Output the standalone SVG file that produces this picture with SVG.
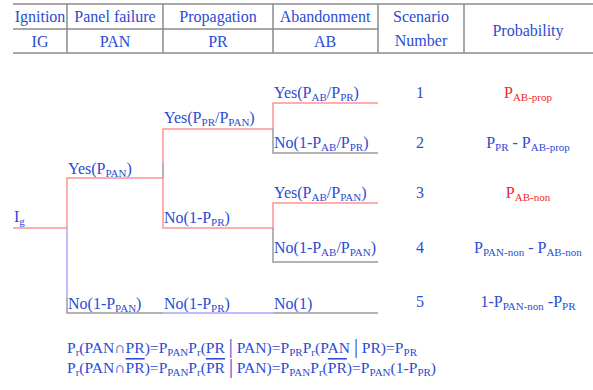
<svg xmlns="http://www.w3.org/2000/svg" width="593" height="390" viewBox="0 0 593 390">
<style>
.t{font-family:"Liberation Serif","Times New Roman",serif;font-size:16px;fill:#2b4bd4}
.c{text-anchor:middle}
.r{fill:#f02828}
.s{font-size:11px}
.f{font-size:15.6px}
.tb{stroke:#8c8c8c;stroke-width:1.5;fill:none}
.red{stroke:#ff9494;stroke-width:1.5;fill:none}
.blu{stroke:#a8a8ff;stroke-width:1.5;fill:none}
.gry{stroke:#9a9a9a;stroke-width:1.5;fill:none}
</style>
<rect width="593" height="390" fill="#fff"/>
<g id="table">
<path class="tb" d="M13,4H593M13,29H378M13,53H593M67,4V53M163,4V53M273,4V53M378,4V53M464,4V53"/>
<text class="t c" x="40" y="22">Ignition</text>
<text class="t c" x="115" y="22">Panel failure</text>
<text class="t c" x="218" y="22">Propagation</text>
<text class="t c" x="325" y="22">Abandonment</text>
<text class="t c" x="40" y="47">IG</text>
<text class="t c" x="115" y="47">PAN</text>
<text class="t c" x="218" y="47">PR</text>
<text class="t c" x="325" y="47">AB</text>
<text class="t c" x="421" y="22">Scenario</text>
<text class="t c" x="421" y="46">Number</text>
<text class="t c" x="528" y="36">Probability</text>
</g>
<g id="connectors">
<path class="red" d="M13,228H67V178H163"/>
<path class="red" d="M163,163V129H273"/>
<path class="gry" d="M163,163V178"/>
<path class="red" d="M163,178V228H273V203H378"/>
<path class="red" d="M273,128V103H378"/>
<path class="gry" d="M273,128V153H378"/>
<path class="gry" d="M273,228V262H378"/>
<path class="blu" d="M67,228V298"/>
<path class="gry" d="M67,298V313H163"/>
<path class="blu" d="M163,313H273"/>
<path class="gry" d="M273,313H378"/>
</g>
<g id="ig"><text class="t" x="14" y="222">I<tspan class="s" dy="3">g</tspan></text></g>
<g id="pan-yes"><text class="t" x="68" y="174">Yes(P<tspan class="s" dy="3">PAN</tspan><tspan dy="-3">)</tspan></text></g>
<g id="pan-no"><text class="t" x="68" y="309">No(1-P<tspan class="s" dy="3">PAN</tspan><tspan dy="-3">)</tspan></text></g>
<g id="pr-yes"><text class="t" x="164" y="123">Yes(P<tspan class="s" dy="3">PR</tspan><tspan dy="-3">/P</tspan><tspan class="s" dy="3">PAN</tspan><tspan dy="-3">)</tspan></text></g>
<g id="pr-no"><text class="t" x="164" y="223">No(1-P<tspan class="s" dy="3">PR</tspan><tspan dy="-3">)</tspan></text></g>
<g id="pr-no2"><text class="t" x="164" y="309">No(1-P<tspan class="s" dy="3">PR</tspan><tspan dy="-3">)</tspan></text></g>
<g id="ab-yes1"><text class="t" x="274" y="98">Yes(P<tspan class="s" dy="3">AB</tspan><tspan dy="-3">/P</tspan><tspan class="s" dy="3">PR</tspan><tspan dy="-3">)</tspan></text></g>
<g id="ab-no1"><text class="t" x="274" y="148">No(1-P<tspan class="s" dy="3">AB</tspan><tspan dy="-3">/P</tspan><tspan class="s" dy="3">PR</tspan><tspan dy="-3">)</tspan></text></g>
<g id="ab-yes2"><text class="t" x="274" y="198">Yes(P<tspan class="s" dy="3">AB</tspan><tspan dy="-3">/P</tspan><tspan class="s" dy="3">PAN</tspan><tspan dy="-3">)</tspan></text></g>
<g id="ab-no2"><text class="t" x="274" y="253">No(1-P<tspan class="s" dy="3">AB</tspan><tspan dy="-3">/P</tspan><tspan class="s" dy="3">PAN</tspan><tspan dy="-3">)</tspan></text></g>
<g id="ab-no3"><text class="t" x="274" y="309">No(1)</text></g>
<g id="s1"><text class="t c" x="420" y="98">1</text><text class="t c r" x="528" y="98">P<tspan class="s" dy="3">AB-prop</tspan></text></g>
<g id="s2"><text class="t c" x="420" y="148">2</text><text class="t c" x="528" y="148">P<tspan class="s" dy="3">PR</tspan><tspan dy="-3"> - P</tspan><tspan class="s" dy="3">AB-prop</tspan></text></g>
<g id="s3"><text class="t c" x="420" y="198">3</text><text class="t c r" x="528" y="198">P<tspan class="s" dy="3">AB-non</tspan></text></g>
<g id="s4"><text class="t c" x="420" y="253">4</text><text class="t c" x="528" y="253">P<tspan class="s" dy="3">PAN-non</tspan><tspan dy="-3">  - P</tspan><tspan class="s" dy="3">AB-non</tspan></text></g>
<g id="s5"><text class="t c" x="420" y="307">5</text><text class="t c" x="528" y="307">1-P<tspan class="s" dy="3">PAN-non</tspan><tspan dy="-3"> -P</tspan><tspan class="s" dy="3">PR</tspan></text></g>
<g id="formulas">
<text class="t f" x="67" y="353">P<tspan class="s" dy="3">r</tspan><tspan dy="-3">(PAN∩PR)=P</tspan><tspan class="s" dy="3">PAN</tspan><tspan dy="-3">P</tspan><tspan class="s" dy="3">r</tspan><tspan dy="-3">(PR </tspan><tspan font-size="20">|</tspan><tspan> PAN)=P</tspan><tspan class="s" dy="3">PR</tspan><tspan dy="-3">P</tspan><tspan class="s" dy="3">r</tspan><tspan dy="-3">(PAN </tspan><tspan font-size="20">|</tspan><tspan> PR)=P</tspan><tspan class="s" dy="3">PR</tspan></text>
<text class="t f" x="67" y="373">P<tspan class="s" dy="3">r</tspan><tspan dy="-3">(PAN∩</tspan><tspan text-decoration="overline">PR</tspan><tspan>)=P</tspan><tspan class="s" dy="3">PAN</tspan><tspan dy="-3">P</tspan><tspan class="s" dy="3">r</tspan><tspan dy="-3">(</tspan><tspan text-decoration="overline">PR</tspan><tspan> </tspan><tspan font-size="20">|</tspan><tspan> PAN)=P</tspan><tspan class="s" dy="3">PAN</tspan><tspan dy="-3">P</tspan><tspan class="s" dy="3">r</tspan><tspan dy="-3">(</tspan><tspan text-decoration="overline">PR</tspan><tspan>)=P</tspan><tspan class="s" dy="3">PAN</tspan><tspan dy="-3">(1-P</tspan><tspan class="s" dy="3">PR</tspan><tspan dy="-3">)</tspan></text>
</g>
</svg>
